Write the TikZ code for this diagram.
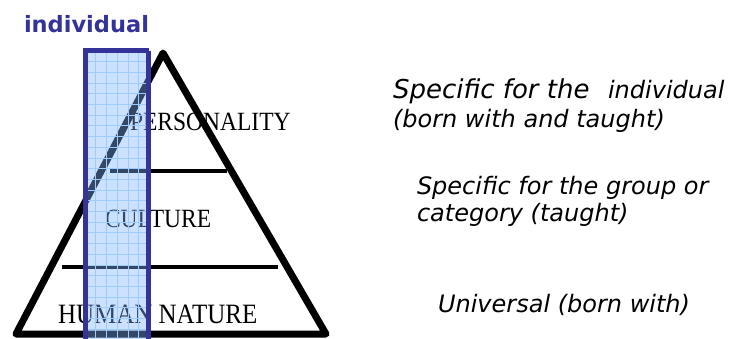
\documentclass[tikz,border=0pt]{standalone}
\usepackage{fontspec}
\setmainfont{Liberation Serif}
\newfontfamily\vsans{DejaVu Sans}
\definecolor{indblue}{HTML}{333399}
\definecolor{panefill}{HTML}{80B4FF}
\definecolor{panegrid}{HTML}{9ECCFF}
\tikzset{
  lbl/.style={anchor=base west, inner sep=0pt, outer sep=0pt},
  serif/.style={lbl, font=\fontsize{23.5}{28}\selectfont},
  note/.style={lbl, font=\vsans\itshape\fontsize{24}{28}\selectfont},
  pyr/.style={line width=7pt, line join=round},
  tier/.style={line width=3.5pt},
  gridline/.style={panegrid, line width=0.6pt},
}
\newcommand{\tall}[1]{\scalebox{1}[1.12]{#1}}
\begin{document}
\begin{tikzpicture}[x=1pt,y=-1pt]
\useasboundingbox (0,0) rectangle (729,338);
% pyramid
\coordinate (apex) at (163,53);
\coordinate (bl) at (16,334);
\coordinate (br) at (326,334);
\draw[pyr] (apex) -- (bl) -- (br) -- cycle;
\coordinate (t1a) at (110,171);
\coordinate (t1b) at (227,171);
\coordinate (t2a) at (62,267);
\coordinate (t2b) at (278,267);
\draw[tier] (t1a) -- (t1b);
\draw[tier] (t2a) -- (t2b);
% tier labels
\node[serif] (pers) at (130,130) {\tall{PERSONALITY}};
\node[serif] (cult) at (105,227) {\tall{CULTURE}};
\node[serif, font=\fontsize{25}{28}\selectfont] (hum) at (58,323.5) {\tall{HUMAN NATURE}};
% individual pane
\coordinate (p1) at (85.5,50.5);
\coordinate (p2) at (148.5,345);
\fill[panefill, fill opacity=0.4] (p1) rectangle (p2);
\begin{scope}
\clip (p1) rectangle (p2);
\foreach \gx in {95.7,106.4,...,150} {\draw[gridline] (\gx,40) -- (\gx,345);}
\foreach \gy in {61.5,72.2,...,345} {\draw[gridline] (80,\gy) -- (155,\gy);}
\end{scope}
\draw[indblue, line width=5pt] (p2 |- p1) -- (p1) -- (p1 |- p2) (p2 |- p1) -- (p2);
\node[lbl, font=\vsans\bfseries\fontsize{22.5}{26}\selectfont, text=indblue] (indiv) at (24,32.5) {individual};
% notes
\node[lbl, font=\vsans\itshape\fontsize{26}{30}\selectfont] (n1a) at (393,98) {Specific for the};
\node[note] (n1b) at (608,98) {individual};
\node[note] (n1c) at (393,127) {(born with and taught)};
\node[note] (n2a) at (417,194) {Specific for the group or};
\node[note] (n2b) at (417,221) {category (taught)};
\node[note] (n3) at (438,312) {Universal (born with)};
\end{tikzpicture}
\end{document}
